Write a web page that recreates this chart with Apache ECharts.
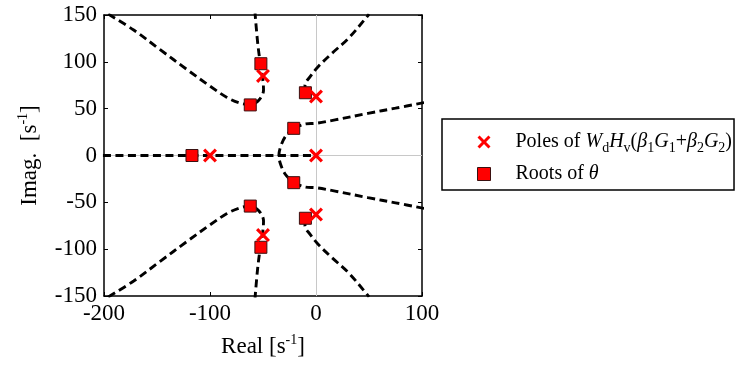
<!DOCTYPE html>
<html>
<head>
<meta charset="utf-8">
<script src="https://cdn.jsdelivr.net/npm/echarts@6/dist/echarts.min.js"></script>
<style>
html,body{margin:0;padding:0;background:#fff;}
#chart{width:741px;height:367px;}
</style>
</head>
<body>
<div id="chart"></div>
<script>
// ---- data ----
const xTicks = [-200, -100, 0, 100];
const yTicks = [-150, -100, -50, 0, 50, 100, 150];

const poleRe = [0, -100, 0, 0, -50, -50];
const poleIm = [0, 0, 63, -63, 85, -85];

const rootRe = [-117, -52, -52, -62, -62, -10, -10, -21, -21];
const rootIm = [0, 98, -98, 54, -54, 67, -67, 29, -29];

// locus branches [real, imag]
const branchUpperLeft = [[-196,151],[-172,134],[-147,113],[-122,92],[-100,74],[-84,62],[-72,56],[-62,54.5],[-54,59],[-49.5,70],[-50.3,82],[-52.5,98],[-55,120],[-57.5,152]];
const branchLowerLeft = [[-196,-151],[-172,-134],[-147,-113],[-122,-92],[-100,-74],[-84,-62],[-72,-56],[-62,-54],[-54,-59],[-49.5,-70],[-50.3,-82],[-52.5,-98],[-55,-120],[-57.5,-152]];
const branchUpperRight = [[-10,67],[-10.4,75],[-5.7,84],[2.2,95],[15,109],[30.5,125],[48,148],[50,151]];
const branchLowerRight = [[-10,-67],[-10.4,-75],[-5.7,-84],[2.2,-95],[15,-109],[30.5,-125],[48,-148],[50,-151]];
const branchMidUpper = [[-21,29.5],[-10,33.7],[0,34.4],[18,38],[49,45],[75,50.5],[102,56.5]];
const branchMidLower = [[-21,-29.5],[-10,-33.7],[0,-34.4],[18,-38],[49,-45],[75,-50.5],[102,-56.5]];
const branchArc = [[-21,29.5],[-29,20],[-33.5,9],[-35,0],[-33.5,-9],[-29,-20],[-21,-29.5]];
const branchReal = [[-201,0],[0,0]];

const serif = "'Liberation Serif','Times New Roman',serif";
const crossIcon = 'path://M0,1.6L1.6,0L5,3.4L8.4,0L10,1.6L6.6,5L10,8.4L8.4,10L5,6.6L1.6,10L0,8.4L3.4,5Z';

const branches = [branchUpperLeft, branchLowerLeft, branchUpperRight, branchLowerRight,
                  branchMidUpper, branchMidLower, branchArc, branchReal];

const chart = echarts.init(document.getElementById('chart'), null, {renderer:'canvas'});

const lineSeries = branches.map((b, i) => ({
  type: 'line',
  name: 'locus' + i,
  data: b,
  smooth: b.length > 2 ? 0.35 : false,
  showSymbol: false,
  symbol: 'none',
  clip: true,
  silent: true,
  z: 3,
  lineStyle: {color: '#000', width: 2.9, type: [8, 4.5]}
}));

const nameRich = {
  n: {fontFamily: serif, fontSize: 23, color: '#000', lineHeight: 27},
  sup: {fontFamily: serif, fontSize: 14, color: '#000', lineHeight: 14, verticalAlign: 'top'}
};

const option = {
  animation: false,
  backgroundColor: '#fff',
  grid: {left: 104, right: 319, top: 15, bottom: 71, containLabel: false},
  xAxis: [
    {
      type: 'value', min: -200, max: 100, interval: 100, position: 'bottom',
      axisLine: {show: true, onZero: false, lineStyle: {color: '#000', width: 1.5}},
      axisTick: {show: true, inside: true, length: 4, lineStyle: {color: '#000', width: 1}},
      axisLabel: {show: true, color: '#000', fontFamily: serif, fontSize: 23, margin: 6,
        formatter: v => xTicks.includes(v) ? String(v) : ''},
      splitLine: {show: false},
      name: '{n|Real [s}{sup|-1}{n|]}', nameLocation: 'middle', nameGap: 37,
      nameTextStyle: {color: '#000', fontFamily: serif, fontSize: 23, rich: nameRich}
    },
    {
      type: 'value', min: -200, max: 100, interval: 100, position: 'top',
      axisLine: {show: true, onZero: false, lineStyle: {color: '#000', width: 1.5}},
      axisTick: {show: true, inside: true, length: 4, lineStyle: {color: '#000', width: 1}},
      axisLabel: {show: false}, splitLine: {show: false}
    }
  ],
  yAxis: [
    {
      type: 'value', min: -150, max: 150, interval: 50, position: 'left',
      axisLine: {show: true, onZero: false, lineStyle: {color: '#000', width: 1.5}},
      axisTick: {show: true, inside: true, length: 4, lineStyle: {color: '#000', width: 1}},
      axisLabel: {show: true, color: '#000', fontFamily: serif, fontSize: 23, margin: 7,
        formatter: v => yTicks.includes(v) ? String(v) : ''},
      splitLine: {show: false},
      name: '{n|Imag.  [s}{sup|-1}{n|]}', nameLocation: 'middle', nameGap: 61,
      nameTextStyle: {color: '#000', fontFamily: serif, fontSize: 23, rich: nameRich}
    },
    {
      type: 'value', min: -150, max: 150, interval: 50, position: 'right',
      axisLine: {show: true, onZero: false, lineStyle: {color: '#000', width: 1.5}},
      axisTick: {show: true, inside: true, length: 4, lineStyle: {color: '#000', width: 1}},
      axisLabel: {show: false}, splitLine: {show: false}
    }
  ],
  legend: {
    orient: 'vertical',
    left: 442, top: 119,
    padding: [13, 2, 6, 35],
    itemGap: 8.5,
    itemWidth: 13, itemHeight: 13,
    borderColor: '#000', borderWidth: 1.5, borderRadius: 0,
    data: [
      {name: 'poles', icon: crossIcon},
      {name: 'roots', icon: 'rect', itemStyle: {color: '#ff0000', borderColor: '#3a1010', borderWidth: 1}}
    ],
    formatter: name => name === 'poles'
      ? '{f|Poles of }{i|W}{s|d}{i|H}{s|v}{t|(}{i|β}{s|1}{i|G}{s|1}{t|+}{i|β}{s|2}{i|G}{s|2}{t|)}'
      : '{f|Roots of }{i|θ}',
    textStyle: {
      color: '#000', fontFamily: serif, fontSize: 20,
      rich: {
        f: {fontFamily: serif, fontSize: 20, color: '#000', lineHeight: 27, padding: [0, 0, 0, 20]},
        t: {fontFamily: serif, fontSize: 20, color: '#000', lineHeight: 27},
        i: {fontFamily: serif, fontSize: 20, fontStyle: 'italic', color: '#000', lineHeight: 27},
        s: {fontFamily: serif, fontSize: 14, color: '#000', lineHeight: 12, verticalAlign: 'bottom'}
      }
    }
  },
  series: [
    {
      type: 'line', name: 'zeroLines', data: [], silent: true, z: 1,
      markLine: {
        silent: true, z: 1, symbol: ['none', 'none'], label: {show: false},
        lineStyle: {color: '#c8c8c8', width: 1, type: 'solid'},
        animation: false,
        data: [{xAxis: 0}, {yAxis: 0}]
      }
    },
    ...lineSeries,
    {
      type: 'scatter', name: 'roots',
      data: rootRe.map((r, i) => [r, rootIm[i]]),
      symbol: 'rect', symbolSize: 12, z: 5,
      itemStyle: {color: '#ff0000', borderColor: '#3a1010', borderWidth: 1, opacity: 1}
    },
    {
      type: 'scatter', name: 'poles',
      data: poleRe.map((r, i) => [r, poleIm[i]]),
      symbol: crossIcon, symbolSize: 14, z: 6,
      itemStyle: {color: '#ff0000', opacity: 1}
    }
  ]
};
chart.setOption(option);
</script>
</body>
</html>
